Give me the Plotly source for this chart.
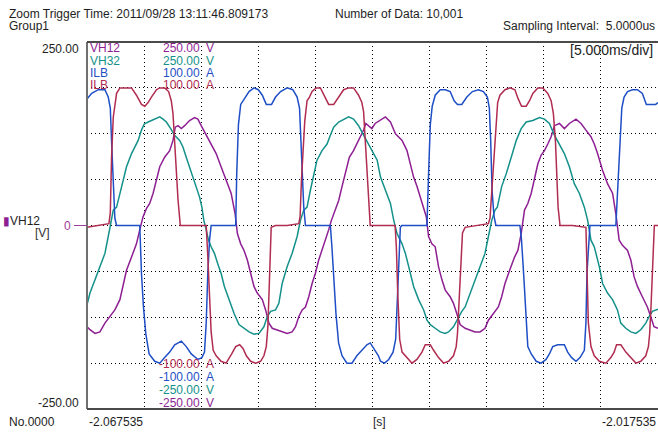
import plotly.graph_objects as go

# time in ms from the left edge of the 50 ms window, voltages in V, currents in A
vh12 = [(0.0, -138), (0.26, -142), (0.70, -147), (1.13, -145), (1.57, -133), (2.01, -124), (2.44, -115),
        (2.88, -101), (3.17, -83), (3.46, -61), (3.90, -43), (4.33, -25), (4.62, -6), (4.91, 12), (5.20, 23),
        (5.49, 30), (5.79, 44), (6.08, 62), (6.37, 80), (6.80, 93), (7.24, 102), (7.53, 116), (7.73, 134),
        (7.97, 136), (8.26, 132), (8.55, 136), (8.98, 143), (9.42, 147), (9.71, 145), (10.00, 136),
        (10.44, 123), (10.87, 111), (11.31, 98), (11.74, 80), (12.18, 62), (12.62, 44), (12.97, 16),
        (13.17, -11), (13.46, -25), (13.75, -34), (14.04, -47), (14.33, -65), (14.62, -83), (14.91, -92),
        (15.35, -101), (15.64, -115), (15.93, -133), (16.22, -140), (16.66, -142), (17.09, -145), (17.53, -147),
        (17.96, -145), (18.26, -138), (18.55, -124), (18.84, -115), (19.13, -111), (19.42, -97), (19.71, -79),
        (20.00, -65), (20.29, -47), (20.58, -34), (20.87, -20), (21.16, -6), (21.40, 7), (21.60, 16),
        (21.80, 23), (22.04, 34), (22.33, 53), (22.62, 71), (22.97, 93), (23.34, 102), (23.63, 111),
        (23.93, 121), (24.22, 130), (24.42, 139), (24.65, 136), (24.94, 132), (25.23, 139), (25.52, 142),
        (26.13, 148), (26.57, 141), (27.01, 125), (27.59, 116), (28.02, 102), (28.31, 84), (28.60, 66),
        (28.90, 53), (29.19, 39), (29.48, 25), (29.71, 12), (29.91, -15), (30.20, -25), (30.49, -29),
        (30.78, -56), (31.08, -74), (31.37, -88), (31.80, -97), (32.09, -106), (32.38, -120), (32.67, -135),
        (33.11, -140), (33.55, -142), (33.98, -145), (34.42, -145), (34.85, -140), (35.15, -129), (35.58, -120),
        (36.02, -111), (36.31, -97), (36.60, -79), (37.01, -61), (37.44, -43), (37.73, -34), (38.02, -11),
        (38.31, 21), (38.60, 30), (38.90, 44), (39.19, 66), (39.48, 84), (39.77, 96), (40.06, 102),
        (40.35, 111), (40.64, 121), (40.93, 136), (41.37, 139), (41.80, 132), (42.24, 139), (42.82, 145),
        (43.26, 139), (43.69, 130), (44.13, 121), (44.42, 111), (44.71, 98), (45.15, 75), (45.58, 57),
        (46.02, 44), (46.31, 16), (46.60, -20), (46.89, -27), (47.33, -34), (47.62, -47), (47.91, -70),
        (48.20, -83), (48.63, -97), (49.07, -111), (49.36, -124), (49.65, -138), (50.0, -140)]

vh32 = [(0.0, -108), (0.26, -92), (0.70, -74), (1.13, -56), (1.57, -38), (1.86, -15), (2.09, 7), (2.30, 21),
        (2.59, 25), (2.88, 44), (3.17, 62), (3.46, 80), (3.90, 98), (4.19, 107), (4.48, 116), (4.77, 130),
        (5.00, 138), (5.35, 141), (5.64, 143), (6.08, 147), (6.37, 148), (6.66, 145), (6.95, 141), (7.33, 132),
        (7.67, 123), (8.11, 116), (8.40, 107), (8.69, 93), (8.98, 80), (9.27, 66), (9.56, 53), (9.85, 39),
        (10.06, 25), (10.23, 7), (10.44, -6), (10.64, -20), (10.87, -29), (11.16, -38), (11.45, -52),
        (11.74, -65), (12.03, -83), (12.44, -101), (12.88, -120), (13.31, -135), (13.75, -140), (14.19, -145),
        (14.62, -148), (15.06, -147), (15.49, -138), (15.79, -124), (16.08, -117), (16.51, -115), (16.80, -106),
        (17.09, -79), (17.53, -56), (17.96, -38), (18.40, -15), (18.69, 7), (18.98, 21), (19.27, 25),
        (19.56, 48), (19.85, 71), (20.14, 89), (20.58, 102), (21.02, 111), (21.31, 123), (21.60, 134),
        (22.04, 141), (22.47, 145), (22.91, 148), (23.34, 145), (23.78, 136), (24.22, 123), (24.65, 111),
        (25.09, 98), (25.41, 89), (25.70, 66), (26.13, 48), (26.57, 30), (26.86, 7), (27.15, -11), (27.59, -25),
        (27.88, -38), (28.17, -56), (28.60, -83), (29.04, -101), (29.48, -115), (29.77, -129), (30.06, -135),
        (30.49, -140), (30.93, -145), (31.37, -147), (31.66, -145), (32.09, -138), (32.53, -124), (32.82, -117),
        (33.11, -111), (33.55, -92), (33.98, -74), (34.42, -56), (34.85, -38), (35.15, -15), (35.44, 7),
        (35.73, 21), (35.93, 25), (36.31, 53), (36.72, 71), (37.15, 93), (37.59, 116), (38.02, 132),
        (38.46, 141), (39.04, 143), (39.62, 147), (40.06, 145), (40.49, 139), (40.93, 123), (41.37, 111),
        (41.80, 98), (42.24, 80), (42.67, 57), (43.11, 44), (43.55, 25), (43.84, 7), (44.13, -20), (44.42, -29),
        (44.86, -56), (45.15, -79), (45.58, -92), (46.02, -101), (46.45, -115), (46.74, -133), (47.18, -140),
        (47.62, -145), (48.06, -147), (48.49, -142), (48.93, -133), (49.22, -124), (49.51, -117), (50.0, -114)]

ilb_blue = [(0.0, 69), (0.41, 72), (0.99, 74), (1.57, 74), (1.86, 70), (2.04, 64), (2.15, 46), (2.30, 19),
            (2.44, 4), (2.59, 0), (4.62, 0), (4.77, -26), (4.94, -44), (5.15, -59), (5.44, -70), (5.93, -74),
            (6.37, -75), (6.80, -72), (7.24, -69), (7.68, -65), (8.26, -63), (8.69, -66), (9.13, -70),
            (9.71, -73), (10.06, -72), (10.29, -69), (10.44, -53), (10.58, -26), (10.73, -8), (10.87, 0),
            (13.02, 0), (13.11, 28), (13.26, 55), (13.46, 66), (13.75, 69), (14.19, 73), (14.62, 75), (15.00, 74),
            (15.35, 71), (15.70, 66), (16.16, 66), (16.51, 70), (16.95, 73), (17.53, 75), (18.02, 74),
            (18.40, 70), (18.61, 64), (18.72, 46), (18.84, 25), (18.98, 10), (19.13, 0), (21.31, 0),
            (21.45, -12), (21.63, -30), (21.80, -48), (22.03, -64), (22.33, -71), (22.76, -75), (23.20, -75),
            (23.63, -71), (24.07, -68), (24.51, -65), (24.80, -64), (25.09, -67), (25.52, -71), (25.70, -74),
            (26.05, -75), (26.42, -73), (26.80, -69), (27.03, -62), (27.15, -44), (27.27, -17), (27.44, -1),
            (27.56, 0), (29.77, 0), (29.91, 28), (30.06, 55), (30.23, 65), (30.49, 71), (30.93, 74), (31.37, 74),
            (31.80, 73), (32.15, 68), (32.44, 66), (32.82, 66), (33.26, 70), (33.75, 73), (34.27, 74),
            (34.71, 73), (35.06, 70), (35.23, 64), (35.35, 46), (35.47, 19), (35.64, 5), (35.81, 0), (37.91, 0),
            (38.05, -8), (38.25, -28), (38.46, -53), (38.60, -66), (38.90, -70), (39.33, -74), (39.77, -75),
            (40.20, -73), (40.49, -70), (40.78, -66), (41.22, -65), (41.80, -65), (42.09, -69), (42.44, -72),
            (42.82, -74), (43.17, -72), (43.55, -68), (43.69, -53), (43.78, -26), (43.93, -8), (44.04, 0),
            (46.31, 0), (46.48, 19), (46.66, 46), (46.83, 64), (47.03, 70), (47.33, 73), (47.76, 74),
            (48.20, 74), (48.63, 72), (48.98, 66), (49.36, 66), (49.80, 66), (50.0, 67)]

ilb_red = [(0.0, -1), (0.99, 0), (1.92, 1), (2.04, 7), (2.15, 37), (2.30, 59), (2.44, 66), (2.59, 72),
           (2.88, 75), (3.46, 75), (3.90, 75), (4.33, 71), (4.77, 66), (5.06, 65), (5.35, 67), (5.64, 70),
           (6.08, 74), (6.37, 75), (6.80, 75), (7.15, 73), (7.38, 68), (7.53, 61), (7.67, 46), (7.82, 28),
           (7.97, 14), (8.17, 0), (10.44, 0), (10.58, -17), (10.73, -41), (10.87, -58), (11.05, -68),
           (11.31, -71), (11.74, -74), (12.18, -75), (12.67, -70), (13.02, -66), (13.37, -65), (13.66, -67),
           (13.95, -71), (14.33, -74), (14.77, -75), (15.20, -74), (15.49, -71), (15.70, -66), (15.84, -55),
           (15.96, -35), (16.05, -12), (16.13, -1), (16.51, 0), (17.53, 0), (18.55, 1), (18.66, 5), (18.78, 25),
           (18.90, 41), (19.07, 57), (19.27, 68), (19.48, 70), (19.71, 73), (20.06, 75), (20.44, 75),
           (20.87, 70), (21.16, 66), (21.60, 66), (22.04, 70), (22.47, 74), (22.91, 75), (23.34, 75),
           (23.78, 71), (24.07, 67), (24.22, 62), (24.36, 46), (24.51, 28), (24.65, 12), (24.80, 0), (26.98, 0),
           (27.09, -12), (27.21, -37), (27.38, -62), (27.59, -69), (28.02, -72), (28.46, -75), (28.89, -73),
           (29.33, -69), (29.62, -65), (30.06, -65), (30.35, -68), (30.78, -72), (31.22, -75), (31.66, -74),
           (32.09, -71), (32.33, -66), (32.44, -59), (32.59, -41), (32.73, -17), (32.88, -4), (33.11, -1),
           (34.13, 0), (35.15, 1), (35.29, 4), (35.44, 19), (35.64, 37), (35.81, 55), (35.96, 67), (36.16, 71),
           (36.60, 74), (37.04, 75), (37.47, 74), (37.76, 69), (38.05, 65), (38.46, 65), (38.75, 68),
           (39.04, 72), (39.48, 75), (39.91, 75), (40.35, 72), (40.64, 68), (40.84, 61), (41.02, 46),
           (41.13, 28), (41.25, 10), (41.42, 0), (42.53, 0), (43.69, -1), (43.78, -26), (43.90, -53),
           (44.13, -66), (44.42, -71), (44.86, -74), (45.44, -75), (45.87, -72), (46.16, -69), (46.37, -65),
           (46.75, -65), (47.18, -69), (47.62, -72), (48.06, -75), (48.49, -74), (48.93, -71), (49.16, -66),
           (49.27, -59), (49.39, -44), (49.51, -26), (49.59, -8), (49.68, 0), (50.0, 0)]

channels = ["VH12", "VH32", "ILB", "ILB"]
full_scale = ["250.00", "250.00", "100.00", "100.00"]
units = ["V", "V", "A", "A"]
colors = ["#8e1f93", "#14918a", "#1f4fc6", "#b02c50"]

FONT = "Liberation Sans"
TXT = "#1e1e1e"

fig = go.Figure()
series = [(vh12, "y"), (vh32, "y"), (ilb_blue, "y2"), (ilb_red, "y2")]
for (pts, ax), name, col in zip(series, channels, colors):
    fig.add_trace(go.Scatter(x=[p[0] for p in pts], y=[p[1] for p in pts], mode="lines", name=name,
                             yaxis=ax, line=dict(color=col, width=1.5), hoverinfo="skip"))

grid = dict(showgrid=True, gridcolor="#000000", gridwidth=1, griddash="1px,3px",
            zeroline=False, showticklabels=False, ticks="", showline=False)
fig.update_layout(
    width=658, height=435, margin=dict(l=87, r=0, t=42, b=26),
    paper_bgcolor="white", plot_bgcolor="white", showlegend=False,
    font=dict(family=FONT, size=12, color=TXT),
    xaxis=dict(range=[0, 50], tickmode="array", tickvals=list(range(5, 50, 5)), **grid),
    yaxis=dict(range=[-250, 250], tickmode="array",
               tickvals=[-187.5, -125, -62.5, 0, 62.5, 125, 187.5], **grid),
    yaxis2=dict(range=[-100, 100], overlaying="y", visible=False),
)

# frame: left, top, bottom (no right edge visible)
for x0, y0, x1, y1, c in [(0, 0, 0, 1, "#707070"), (0, 1, 1, 1, "#4a4a4a"), (0, 0, 1, 0, "#4a4a4a")]:
    fig.add_shape(type="line", xref="paper", yref="paper", x0=x0, y0=y0, x1=x1, y1=y1,
                  line=dict(color=c, width=2))


def px_x(p):
    return (p - 87) / 571


def px_y(p):
    return (409 - p) / 367


fig.add_shape(type="line", xref="paper", yref="y", x0=px_x(74), x1=0, y0=0, y1=0,
              line=dict(color="#a0409a", width=1))


def label(text, x, y, anchor="left", color=TXT, size=12):
    fig.add_annotation(text=text, xref="paper", yref="paper", x=px_x(x), y=px_y(y),
                       xanchor=anchor, yanchor="middle", showarrow=False,
                       font=dict(family=FONT, size=size, color=color))


label("Zoom Trigger Time: 2011/09/28 13:11:46.809173", 7, 14)
label("Group1", 7, 26)
label("Number of Data: 10,001", 333, 14)
label("Sampling Interval:&nbsp; 5.0000us", 657, 26, "right")
label("[5.000ms/div]", 655, 50, "right", "#222222", 14)
label("250.00", 81, 49, "right")
label("-250.00", 81, 403, "right")
label("0", 73, 226, "right", "#a0409a")
label("<span style='color:#8e1f93'>▮</span>VH12", 1, 221)
label("[V]", 33, 233, "left", "#333333")
label("No.0000", 7, 422)
label("-2.067535", 87, 422)
label("[s]", 379, 422, "center")
label("-2.017535", 658, 422, "right")

for i in range(4):
    yy = 48.5 + 12.2 * i
    label(channels[i], 88, yy, "left", colors[i])
    label(full_scale[i], 202, yy, "right", colors[i])
    label(units[i], 204, yy, "left", colors[i])

bottom_order = [3, 2, 1, 0]
for row, i in enumerate(bottom_order):
    yy = 364 + 13 * row
    label("-" + full_scale[i], 202, yy, "right", colors[i])
    label(units[i], 204, yy, "left", colors[i])

fig.write_html("out.html", config={"displayModeBar": False},
               post_script="document.body.style.margin='0';")
